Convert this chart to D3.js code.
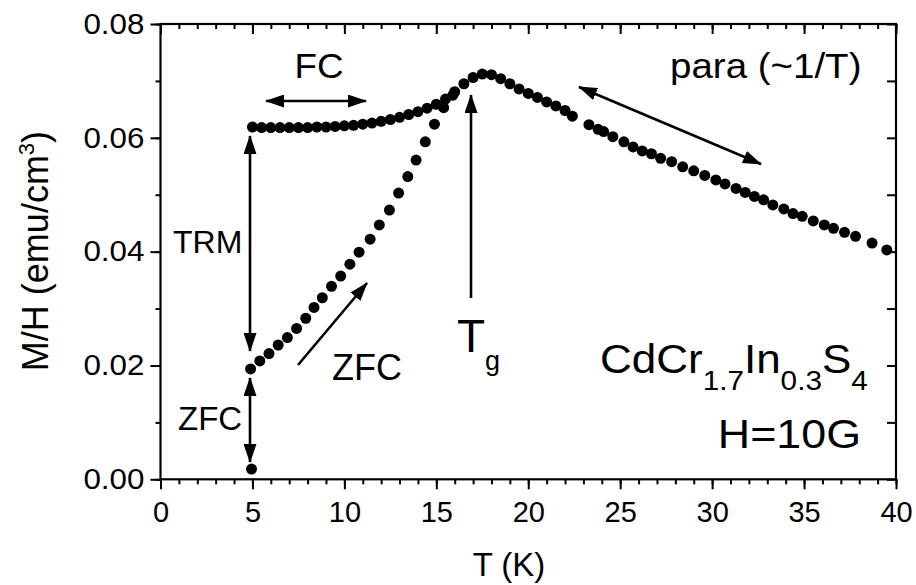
<!DOCTYPE html>
<html><head><meta charset="utf-8">
<script src="https://cdn.jsdelivr.net/npm/d3@7"></script>
<style>body{margin:0;background:#fff}svg{display:block}text{font-family:"Liberation Sans",Arial,Helvetica,sans-serif;fill:#000}</style>
</head><body><svg id="c" width="916" height="585"></svg>
<script>
// ---- data ----
const xTicks = [0, 5, 10, 15, 20, 25, 30, 35, 40];
const yTicks = [0.00, 0.02, 0.04, 0.06, 0.08];
// FC branch + paramagnetic region
const fcT = [5.0,5.5,6.0,6.5,7.0,7.5,8.0,8.5,9.0,9.5,10.0,10.5,11.0,11.5,12.0,12.5,13.0,13.5,14.0,14.5,15.0,15.5,16.0,16.5,17.0,17.5,18.0,18.5,19.0,19.5,20.0,20.5,21.0,21.5,22.0,22.4,
  23.3,23.8,24.1,24.6,25.2,25.7,26.2,26.7,27.2,27.8,28.4,29.0,29.6,30.2,30.7,31.3,31.8,32.3,32.8,33.3,33.9,34.4,34.9,35.5,36.1,36.6,37.2,37.8,38.7,39.5];
const fcM = [0.0619,0.0618,0.0618,0.0618,0.0618,0.0618,0.0618,0.0619,0.0619,0.0620,0.0621,0.0622,0.0624,0.0626,0.0629,0.0632,0.0636,0.0641,0.0646,0.0652,0.0659,0.0668,0.0681,0.0695,0.0706,0.0712,0.0711,0.0704,0.0695,0.0686,0.0678,0.0671,0.0663,0.0656,0.0648,0.0638,
  0.0623,0.0615,0.0611,0.0602,0.0593,0.0584,0.0577,0.0572,0.0564,0.0558,0.0549,0.0542,0.0534,0.0526,0.0519,0.0511,0.0504,0.0497,0.0491,0.0482,0.0475,0.0467,0.0462,0.0454,0.0447,0.0441,0.0434,0.0427,0.0415,0.0403];
// ZFC branch
const zfcT = [4.95,4.9,5.4,5.9,6.4,6.9,7.4,7.9,8.35,8.8,9.3,9.8,10.3,10.8,11.4,11.9,12.45,12.95,13.45,13.9,14.4,14.9,15.4,15.9];
const zfcM = [0.0018,0.0194,0.0208,0.0221,0.0236,0.0249,0.0265,0.0283,0.0302,0.0319,0.0339,0.0357,0.0378,0.0399,0.0422,0.0447,0.0473,0.0503,0.0532,0.0561,0.0593,0.0624,0.0653,0.0675];

// ---- layout ----
const svg = d3.select("#c");
const L = 160.5, R = 896, T = 24, B = 479.3;
const x = d3.scaleLinear().domain([0, 40]).range([L, R]);
const y = d3.scaleLinear().domain([0, 0.08]).range([B, T]);
const F = '"Liberation Sans",Arial,Helvetica,sans-serif';

function styleAxis(g){ g.select(".domain").remove(); g.selectAll("line").attr("stroke","#000").attr("stroke-width",2); g.selectAll("text").attr("font-family",F).attr("fill","#000"); }

// minor ticks
const minX = d3.range(0, 41, 1), minY = d3.range(0, 0.0801, 0.01);
svg.append("g").attr("transform",`translate(0,${B})`).call(d3.axisBottom(x).tickValues(minX).tickSize(5).tickFormat("")).call(styleAxis);
svg.append("g").attr("transform",`translate(0,${T})`).call(d3.axisTop(x).tickValues(minX).tickSize(-5).tickFormat("")).call(styleAxis);
svg.append("g").attr("transform",`translate(${L},0)`).call(d3.axisLeft(y).tickValues(minY).tickSize(5).tickFormat("")).call(styleAxis);
svg.append("g").attr("transform",`translate(${R},0)`).call(d3.axisRight(y).tickValues(minY).tickSize(-9).tickFormat("")).call(styleAxis);
// major ticks
svg.append("g").attr("transform",`translate(0,${B})`).call(d3.axisBottom(x).tickValues(xTicks).tickSize(10).tickPadding(12).tickFormat(d3.format("d")))
  .call(styleAxis).call(g=>g.selectAll("text").attr("font-size",29));
svg.append("g").attr("transform",`translate(0,${T})`).call(d3.axisTop(x).tickValues(xTicks).tickSize(-10).tickFormat("")).call(styleAxis);
svg.append("g").attr("transform",`translate(${L},0)`).call(d3.axisLeft(y).tickValues(yTicks).tickSize(10).tickPadding(7).tickFormat(d3.format(".2f")))
  .call(styleAxis).call(g=>g.selectAll("text").attr("font-size",29).attr("transform","translate(-28,0) scale(1.08,1) translate(28,0)"));
// frame
svg.append("rect").attr("x",L).attr("y",T).attr("width",R-L).attr("height",B-T).attr("fill","none").attr("stroke","#000").attr("stroke-width",2.2);

// axis titles
svg.append("text").attr("x",509).attr("y",576).attr("text-anchor","middle").attr("font-size",33).text("T (K)");
const yl = svg.append("text").attr("transform",`translate(48,251) rotate(-90)`).attr("text-anchor","middle").attr("font-size",36);
yl.append("tspan").text("M/H (emu/cm");
yl.append("tspan").attr("font-size",22).attr("dy",-14).text("3");
yl.append("tspan").attr("dy",14).text(")");

// data dots
const fc = fcT.map((t,i)=>({t, m: fcM[i]}));
const zfc = zfcT.map((t,i)=>({t, m: zfcM[i]}));
svg.append("g").selectAll("circle").data(fc).join("circle")
  .attr("cx",d=>x(d.t)).attr("cy",d=>y(d.m)).attr("r",5.5).attr("fill","#000");
svg.append("g").selectAll("circle").data(zfc).join("circle")
  .attr("cx",d=>x(d.t)).attr("cy",d=>y(d.m)).attr("r",5.5).attr("fill","#000");

// arrows
const defs = svg.append("defs");
defs.append("marker").attr("id","ah").attr("viewBox","0 0 19 13").attr("refX",18).attr("refY",6.5)
  .attr("markerWidth",19).attr("markerHeight",13).attr("markerUnits","userSpaceOnUse").attr("orient","auto-start-reverse")
  .append("path").attr("d","M0,0 L19,6.5 L0,13 Z").attr("fill","#000");
function arrow(x1,y1,x2,y2,both){
  const p = svg.append("line").attr("x1",x1).attr("y1",y1).attr("x2",x2).attr("y2",y2)
    .attr("stroke","#000").attr("stroke-width",2.6).attr("marker-end","url(#ah)");
  if(both) p.attr("marker-start","url(#ah)");
}
arrow(266,101,366,101,true);          // FC
arrow(250,136,250,351,true);          // TRM
arrow(250,378,250,462,true);          // ZFC (vertical)
arrow(298,365,367,283,false);         // ZFC (diagonal)
arrow(471,298,471,95,false);          // Tg
arrow(761,164,579,87,true);           // para

// labels
function txt(xp,yp,s,fs,anchor,sx){
  return svg.append("text").attr("transform",`translate(${xp},${yp}) scale(${sx||1},1)`)
    .attr("font-size",fs).attr("text-anchor",anchor||"start").text(s);
}
txt(319,78,"FC",35,"middle",1.05);
txt(173,253,"TRM",32,"start",1.0);
txt(178,430,"ZFC",33,"start",1.0);
txt(332,380,"ZFC",36,"start",1.0);
txt(670,78,"para (~1/T)",35,"start",1.1);
const tg = svg.append("text").attr("x",457).attr("y",352).attr("font-size",46);
tg.append("tspan").text("T"); tg.append("tspan").attr("font-size",27).attr("dy",18).text("g");
const cc = svg.append("text").attr("transform","translate(600,373) scale(1.1,1)").attr("font-size",40);
cc.append("tspan").text("CdCr");
cc.append("tspan").attr("font-size",27).attr("dy",17).text("1.7");
cc.append("tspan").attr("dy",-17).text("In");
cc.append("tspan").attr("font-size",27).attr("dy",17).text("0.3");
cc.append("tspan").attr("dy",-17).text("S");
cc.append("tspan").attr("font-size",27).attr("dy",17).text("4");
txt(861,448,"H=10G",40,"end",1.12);
</script></body></html>
